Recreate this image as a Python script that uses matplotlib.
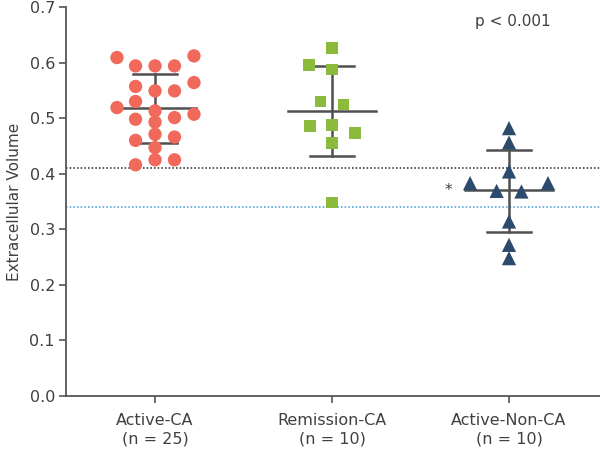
import numpy as np
import matplotlib
matplotlib.use("Agg")
import matplotlib.pyplot as plt

# ─── Data ───
groups = ["Active-CA\n(n = 25)", "Remission-CA\n(n = 10)", "Active-Non-CA\n(n = 10)"]

active_ca_x = [-0.215, -0.215,
               -0.11, -0.11, -0.11, -0.11, -0.11, -0.11,
               0.0, 0.0, 0.0, 0.0, 0.0, 0.0, 0.0,
               0.11, 0.11, 0.11, 0.11, 0.11,
               0.22, 0.22, 0.22]
active_ca_y = [0.609, 0.519,
               0.594, 0.557, 0.530, 0.498, 0.460, 0.416,
               0.594, 0.549, 0.513, 0.493, 0.471, 0.447, 0.425,
               0.594, 0.549, 0.501, 0.466, 0.425,
               0.612, 0.564, 0.507]

remission_x = [0.0, -0.13, 0.0, -0.065, 0.065, -0.125, 0.0, 0.13, 0.0, 0.0]
remission_y = [0.626, 0.596, 0.588, 0.530, 0.525, 0.486, 0.488, 0.473, 0.455, 0.348]

non_ca_x = [0.0, 0.0, 0.0, -0.22, -0.07, 0.07, 0.22, 0.0, 0.0, 0.0]
non_ca_y = [0.482, 0.456, 0.404, 0.383, 0.369, 0.368, 0.383, 0.314, 0.272, 0.248]

means = [0.518, 0.512, 0.370]
sd_hi = [0.579, 0.593, 0.443]
sd_lo = [0.456, 0.431, 0.295]

ref_black = 0.41
ref_blue = 0.34

red = "#F0695A"
green = "#8BBA3C"
navy = "#2C4A6B"
bar_col = "#505050"
text_col = "#404040"

fig = plt.figure(figsize=(6.0, 4.51), dpi=100)
ax = fig.add_axes([0.11, 0.122, 0.89, 0.8625])

# reference lines
ax.axhline(ref_black, color="#222222", lw=1.1, ls=(0, (1, 1.4)), zorder=1)
ax.axhline(ref_blue, color="#3D9AD8", lw=1.1, ls=(0, (1, 1.4)), zorder=1)

# mean and SD bars
mean_half = [0.23, 0.25, 0.25]
cap_half = 0.125
for i, (m, hi, lo) in enumerate(zip(means, sd_hi, sd_lo)):
    xc = i + 1
    ax.plot([xc, xc], [lo, hi], color=bar_col, lw=1.8, zorder=2)
    ax.plot([xc - mean_half[i], xc + mean_half[i]], [m, m], color=bar_col, lw=1.8, zorder=2)
    for v in (hi, lo):
        ax.plot([xc - cap_half, xc + cap_half], [v, v], color=bar_col, lw=1.8, zorder=2)

# points
ax.scatter(1 + np.array(active_ca_x), active_ca_y, s=92, marker="o",
           color=red, edgecolors="none", zorder=3)
ax.scatter(2 + np.array(remission_x), remission_y, s=68, marker="s",
           color=green, edgecolors="none", zorder=3)
ax.scatter(3 + np.array(non_ca_x), non_ca_y, s=105, marker="^",
           color=navy, edgecolors="none", zorder=3)

ax.text(2.66, 0.369, "*", ha="center", va="center", fontsize=11, color=text_col)
ax.text(3.02, 0.673, "p < 0.001", ha="center", va="center",
        fontsize=11, color=text_col)

ax.set_xlim(0.497, 3.514)
ax.set_ylim(0, 0.7)
ax.set_yticks(np.arange(0, 0.71, 0.1))
ax.set_yticklabels(["%.1f" % v for v in np.arange(0, 0.71, 0.1)])
ax.set_xticks([1, 2, 3])
ax.set_xticklabels(groups, linespacing=1.3)
ax.set_ylabel("Extracellular Volume", fontsize=11, color=text_col, labelpad=5)

for s in ("top", "right"):
    ax.spines[s].set_visible(False)
for s in ("left", "bottom"):
    ax.spines[s].set_color("#555555")
    ax.spines[s].set_linewidth(1.3)
ax.tick_params(axis="y", length=5, width=1.2, color="#555555", labelsize=11.5,
               labelcolor=text_col, pad=3)
ax.tick_params(axis="x", length=5, width=1.2, color="#555555", labelsize=11.5,
               labelcolor=text_col, pad=7)

fig.savefig("out.png", dpi=100)
